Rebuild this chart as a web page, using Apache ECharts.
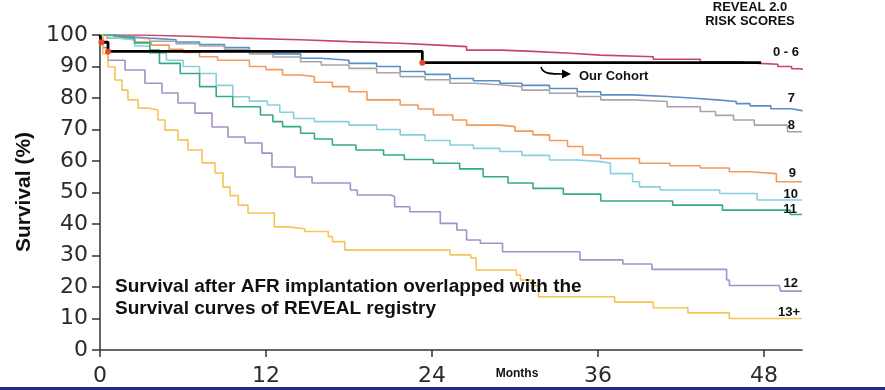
<!DOCTYPE html>
<html>
<head>
<meta charset="utf-8">
<script src="https://cdn.jsdelivr.net/npm/echarts@6/dist/echarts.min.js"></script>
<style>html,body{margin:0;padding:0;background:#fff}#c{width:885px;height:390px}</style>
</head>
<body>
<div id="c"></div>
<script>
// ---- data (months, survival %) ----
const xTicks = [0, 12, 24, 36, 48];
const yTicks = [0, 10, 20, 30, 40, 50, 60, 70, 80, 90, 100];

const score0to6 = [[0,100],[3,99.5],[7,99],[10,98.5],[14.5,97.9],[18,97.4],[21.7,96.8],[24.5,96.3],[26.5,95.2],[29,94.8],[31.3,94.2],[34,93.6],[36.2,93.1],[40,92.3],[43.4,91.5],[46,91],[47.7,90.7],[49,90],[50,89.3],[50.75,88.9]];
const score7 = [[0,100],[1,99.5],[2,99],[3.6,98.5],[5.5,97.8],[7.2,97],[9,96],[10.8,95],[12.5,94],[14.5,92.6],[16,92],[18,91],[20,90],[21.7,88.4],[23.5,87.5],[25.3,86.2],[27,85.5],[28.9,84.7],[30.5,84],[32.5,83],[34.5,82],[36.2,81],[38.5,80.5],[41,79.9],[43,79.4],[44.6,78.9],[46,78.2],[47,77.5],[48.5,76.6],[50,76],[50.75,75.7]];
const score8 = [[0,100],[1,99.3],[2,98.8],[3.6,98],[5.5,97.2],[7.2,96.5],[9,95.3],[10.8,94],[12.5,93],[14.5,91.5],[16,90.5],[18,89.4],[20,88],[21.7,86.8],[23.5,85.8],[25.3,84.7],[27,84.2],[28.9,83.6],[30.5,82.5],[32.5,81.5],[34.5,80.5],[36.2,79.4],[38.5,78.9],[41,77.2],[43.4,75.7],[44.5,74.5],[45.8,73],[47.3,71.4],[49.7,69.3],[50.75,69.3]];
const score9 = [[0,100],[0.5,99],[1.5,98.5],[2.5,97.8],[3.7,96.8],[5,95.5],[6,94.5],[7.2,93.1],[8.5,92],[10.8,90],[12,89],[13.2,87.3],[14.5,86.8],[15.5,85],[16.8,83.6],[18,82],[19.3,79.4],[21.7,77.8],[23,76.5],[24.1,74.6],[25.5,73],[26.5,71.4],[28.9,70.9],[30,69.5],[31.3,68.3],[32.5,66.5],[33.8,64.6],[34.9,61.9],[36.2,60.8],[39,59.3],[41.2,58.5],[43.4,57.8],[45.5,56.6],[47,56],[48.9,53.4],[50.75,53.3]];
const score10 = [[0,100],[0.7,99],[1.45,98.4],[2.5,96.5],[3.6,94.2],[4.8,92],[6,90],[7.2,87.8],[8.4,84],[9.6,80.4],[10.8,79],[12.1,77.8],[13,75.5],[14,73.5],[15.5,72.5],[18,71.4],[20,70],[21.7,68.3],[23.5,66.5],[25.3,65.1],[27,64],[28.9,63],[30.5,61.8],[32.5,60.3],[34.5,59.8],[36.2,59.3],[36.9,56],[38.5,53.4],[39,51.8],[40.5,50.8],[44.8,49.7],[47.5,47.6],[50.75,47.6]];
const score11 = [[0,100],[0.7,99.5],[1.5,99],[2.5,97.5],[3.6,95.2],[4.3,91],[5.8,87.8],[7.2,83.6],[8.4,80.5],[9.6,77.2],[11.6,74.6],[12.5,72.5],[13.2,70.9],[14.5,68.8],[15.5,67],[16.8,65.1],[18.5,63.5],[20.5,61.9],[22,60.5],[24.1,59.3],[26,57.5],[27.7,55],[29.5,53],[31.3,51.3],[33.5,49.5],[36.2,47.3],[41.4,46],[45,44.4],[49.9,43],[50.75,43]];
const score12 = [[0,100],[0.2,96],[0.58,92],[1.81,88.9],[3.25,84.7],[4.48,81.6],[5.64,78.4],[6.87,75.2],[8.1,70.8],[9.25,67.6],[10.48,65.7],[11.71,62.5],[12.43,58.1],[14.1,54.9],[15.33,53],[18.1,50.8],[18.6,49.2],[21,48.7],[21.3,45.5],[22.4,43.9],[24.6,40.2],[25.8,38.1],[26.5,34.9],[27.5,33.9],[29.1,31.2],[34,31.2],[34.7,28.6],[37.8,27.3],[39.9,25.6],[45,25.6],[45.3,22.2],[45.5,20.5],[49.1,20.5],[49.2,18.7],[50.75,18.7]];
const score13plus = [[0,100],[0.2,94],[0.58,89.9],[1.08,85.7],[1.59,82.5],[2.02,79.4],[2.75,76.8],[3.47,76.2],[4.19,73],[4.7,69.8],[5.64,66.7],[6.36,63.5],[7.37,59.4],[8.31,56.2],[8.89,51.7],[9.4,49],[10,46],[10.7,43.5],[12.6,39.1],[13.6,38.5],[14.8,37.6],[16.5,36],[16.8,34.4],[17.7,31.7],[25.3,30.2],[26.8,29.2],[27.2,25.4],[30.1,23.8],[30.4,22.2],[31.3,20.5],[31.7,16.9],[37.2,15.2],[40,13.4],[42.5,11.8],[45.5,10],[50.75,10]];
const ourCohort = [[0,100],[0.1,97.7],[0.58,94.8],[23.3,91.2],[47.8,91.2]];
const cohortEventIdx = [1, 2, 3];

const seriesNames = ['0 - 6','7','8','9','10','11','12','13+'];
const seriesData = [score0to6, score7, score8, score9, score10, score11, score12, score13plus];
const seriesColors = ['#c8456a','#5b8ec4','#a6a6a6','#f39a5a','#86d0df','#33ab86','#a68fca','#f6c457'];

const chart = echarts.init(document.getElementById('c'), null, {renderer:'canvas'});

const series = seriesData.map((d, i) => ({
  name: seriesNames[i], type: 'line', step: 'end', data: d,
  symbol: 'none', lineStyle: {color: seriesColors[i], width: 1.6}, z: 2
}));
series.push({
  name: 'Our Cohort', type: 'line', step: 'end',
  data: ourCohort.map((p, i) => ({value: p, symbolSize: cohortEventIdx.includes(i) ? 6 : 0})),
  symbol: 'circle', showSymbol: true,
  itemStyle: {color: '#e8452c'},
  lineStyle: {color: '#000', width: 2.8}, z: 5
});

const font = 'Liberation Sans, Arial, sans-serif';
const bold = (x, y, text, size, align) => ({
  type: 'text', x, y, z: 10,
  style: {text, fontFamily: font, fontWeight: 'bold', fontSize: size, fill: '#111', textAlign: align || 'center', textVerticalAlign: 'middle'}
});

chart.setOption({
  animation: false,
  grid: {left: 100, right: 83, top: 35, bottom: 40, outerBoundsMode: 'none'},
  xAxis: {
    type: 'value', min: 0, max: 50.75,
    splitLine: {show: false},
    axisLine: {lineStyle: {color: '#333', width: 1.5}},
    axisTick: {show: true, length: 7, inside: false, lineStyle: {color: '#333', width: 1.5}, customValues: xTicks},
    axisLabel: {customValues: xTicks, margin: 15, fontFamily: 'DejaVu Sans', fontSize: 22, color: '#2b2b2b'}
  },
  yAxis: {
    type: 'value', min: 0, max: 100, interval: 10,
    splitLine: {show: false},
    axisLine: {show: true, lineStyle: {color: '#333', width: 1.5}},
    axisTick: {show: true, length: 8, inside: false, lineStyle: {color: '#333', width: 1.5}},
    axisLabel: {margin: 12, fontFamily: 'DejaVu Sans', fontSize: 22, color: '#2b2b2b'}
  },
  series,
  graphic: [
    {type: 'text', x: 24, y: 192, rotation: Math.PI/2, z: 10,
     style: {text: 'Survival (%)', fontFamily: font, fontWeight: 'bold', fontSize: 21, fill: '#111', textAlign: 'center', textVerticalAlign: 'middle'}},
    bold(750, 7, 'REVEAL 2.0', 13),
    bold(750, 21, 'RISK SCORES', 13),
    bold(799, 52, '0 - 6', 13, 'right'),
    bold(795, 98, '7', 13, 'right'),
    bold(795, 125, '8', 13, 'right'),
    bold(796, 173, '9', 13, 'right'),
    bold(798, 194, '10', 13, 'right'),
    bold(797, 209, '11', 13, 'right'),
    bold(798, 283, '12', 13, 'right'),
    bold(800, 312, '13+', 13, 'right'),
    bold(579, 76, 'Our Cohort', 13, 'left'),
    bold(517, 374, 'Months', 12),
    {type: 'text', x: 115, y: 276, z: 10,
     style: {text: 'Survival after AFR implantation overlapped with the\nSurvival curves of REVEAL registry', fontFamily: font, fontWeight: 'bold', fontSize: 19, lineHeight: 22, fill: '#111', textAlign: 'left', textVerticalAlign: 'top'}},
    {type: 'bezierCurve', z: 10, shape: {x1: 541, y1: 67, cpx1: 543, cpy1: 74, cpx2: 550, cpy2: 74, x2: 565, y2: 74},
     style: {stroke: '#000', lineWidth: 1.6, fill: null}},
    {type: 'polygon', z: 10, shape: {points: [[562, 69.5], [571, 74], [562, 78.5]]}, style: {fill: '#000'}},
    {type: 'rect', z: 10, shape: {x: 0, y: 387, width: 885, height: 3}, style: {fill: '#232d86'}}
  ]
});
</script>
</body>
</html>
